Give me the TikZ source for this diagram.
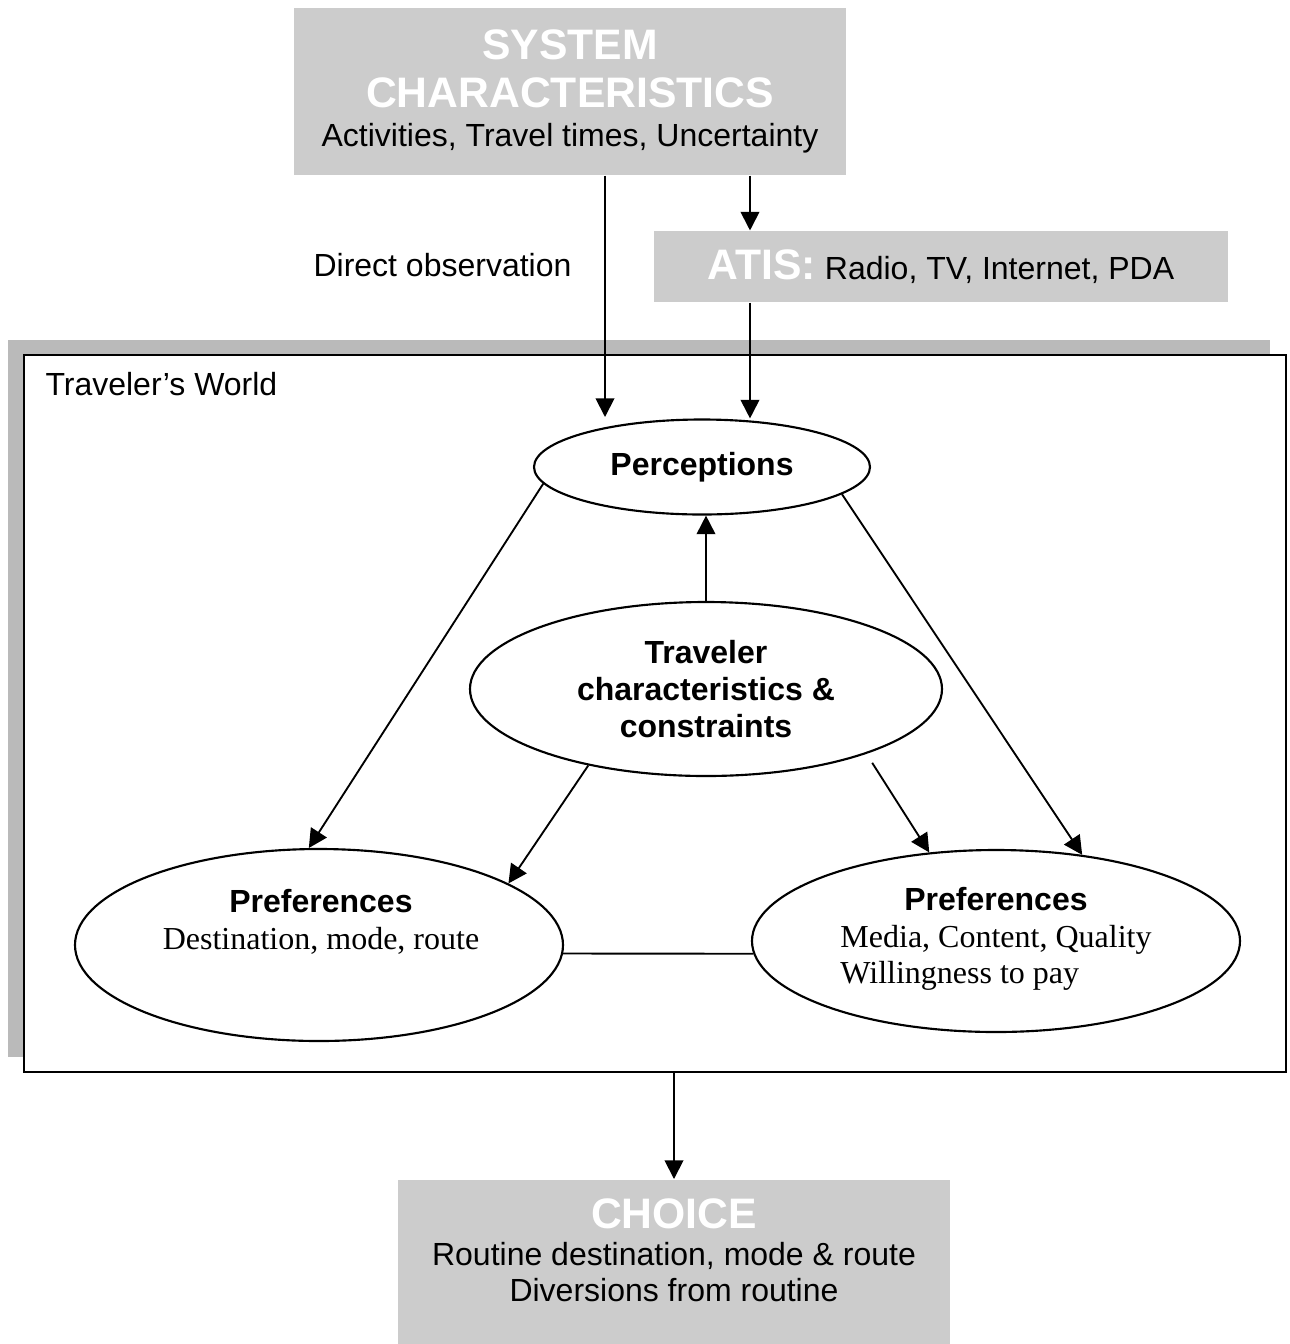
\documentclass[tikz,border=0pt]{standalone}
\usepackage{fontspec}
\setmainfont{Liberation Sans}
\newfontfamily\timesfont{Liberation Serif}
\usetikzlibrary{arrows.meta,shapes.geometric,shadows}
\definecolor{boxgray}{RGB}{204,204,204}
\definecolor{shadegray}{RGB}{186,186,186}
\newcommand{\pix}{0.375pt}
\newcommand{\bigtitle}{\fontsize{16}{18}\selectfont\bfseries\color{white}}

\begin{document}
\begin{tikzpicture}[x=0.375pt,y=-0.375pt,
    font=\fontsize{12}{13.8}\selectfont,
    arr/.style={-{Triangle[length=7pt,width=7pt]},line width=0.7pt},
    graybox/.style={rectangle,fill=boxgray,align=center,inner sep=0pt},
    bubble/.style={ellipse,draw,line width=0.8pt,align=center,inner sep=0pt}]
  \useasboundingbox (0,0) rectangle (1290,1344);

  \node[draw,line width=1pt,fill=white,minimum width=1262*\pix,minimum height=717*\pix,
    drop shadow={shadow xshift=-6pt,shadow yshift=5.8pt,fill=shadegray,opacity=1}] (world) at (655,713.5) {};
  \node[anchor=base west,inner sep=0pt] (worldlabel) at (45,395) {Traveler’s World};

  \node[graybox,minimum width=552*\pix,minimum height=167*\pix] (sys) at (570,91.5)
    {{\bigtitle SYSTEM}\\[4.2pt]{\bigtitle CHARACTERISTICS}\\[0.8pt]Activities, Travel times, Uncertainty};
  \node[graybox,minimum width=574*\pix,minimum height=71*\pix] (atis) at (941,266.5)
    {{\bigtitle ATIS:} Radio, TV, Internet, PDA};
  \node[graybox,minimum width=552*\pix,anchor=north,inner ysep=19*\pix] (choice) at (674,1179)
    {{\bigtitle CHOICE}\\Routine destination, mode \& route\\Diversions from routine\rule[-12pt]{0pt}{0pt}};
  \node[anchor=base east,inner sep=0pt] (obslabel) at (572,276) {Direct observation};

  \node[bubble,minimum width=336*\pix,minimum height=95*\pix] (perc) at (702,467) {\textbf{Perceptions}};
  \node[bubble,minimum width=472*\pix,minimum height=174*\pix] (trav) at (706,689)
    {\textbf{Traveler}\\\textbf{characteristics \&}\\\textbf{constraints}};
  \node[bubble,minimum width=488*\pix,minimum height=192*\pix] (lpref) at (319,945) {};
  \node[align=center] (lpreftext) at (321,922) {\textbf{Preferences}\\{\timesfont Destination, mode, route}};
  \node[bubble,minimum width=488*\pix,minimum height=182*\pix] (rpref) at (996,941)
    {\textbf{Preferences}\\{\timesfont\begin{tabular}[t]{@{}l@{}}Media, Content, Quality\\Willingness to pay\end{tabular}}};

  \coordinate (obsend) at (605,417);
  \coordinate (atisx) at (750,0);
  \draw[arr] (sys.south -| obsend) -- (obsend);
  \draw[arr] (sys.south -| atisx) -- (atis.north -| atisx);
  \draw[arr] (atis.south -| atisx) -- (perc.north -| atisx);
  \draw[arr] (trav.north) -- (trav.north |- perc.south);
  \draw[arr] (perc.186) -- (lpref.96);
  \draw[arr] (perc.-11) -- (rpref.45);
  \draw[arr] (trav.213) -- (lpref.18);
  \draw[arr,shorten <=4pt] (trav.-22) -- (rpref.127.7);
  \draw[line width=0.7pt] (lpref.-2) -- (rpref.183.3);
  \draw[arr] (world.south -| choice.north) -- (choice.north);
\end{tikzpicture}
\end{document}
